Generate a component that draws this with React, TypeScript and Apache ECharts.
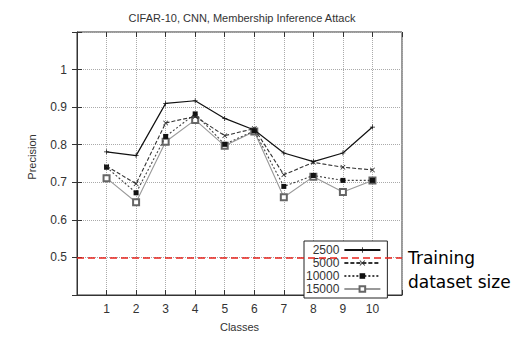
import React, { useEffect, useRef } from "react";
import * as echarts from "echarts";

const classes = [1, 2, 3, 4, 5, 6, 7, 8, 9, 10];
const seriesNames = ["2500", "5000", "10000", "15000"];
const p2500 = [0.781, 0.771, 0.910, 0.917, 0.870, 0.839, 0.778, 0.755, 0.778, 0.847];
const p5000 = [0.743, 0.696, 0.858, 0.875, 0.824, 0.843, 0.720, 0.753, 0.740, 0.733];
const p10000 = [0.740, 0.672, 0.822, 0.882, 0.801, 0.837, 0.689, 0.718, 0.705, 0.705];
const p15000 = [0.711, 0.647, 0.808, 0.866, 0.797, 0.835, 0.660, 0.715, 0.674, 0.705];
const yTicks = [0.5, 0.6, 0.7, 0.8, 0.9, 1];
const baseline = 0.5;

const PLUS = "path://M4.3,0H5.7V10H4.3ZM0,4.3H10V5.7H0Z";
const CROSS = "path://M1,0L5,4L9,0L10,1L6,5L10,9L9,10L5,6L1,10L0,9L4,5L0,1Z";

export default function App() {
  const ref = useRef<HTMLDivElement>(null);
  useEffect(() => {
    const chart = echarts.init(ref.current!, null, { renderer: "svg" });
    const toPts = (arr: number[]) => classes.map((c, i) => [c, arr[i]]);
    const tickFmt = (v: number) => (yTicks.some((t) => Math.abs(t - v) < 1e-9) ? String(v) : "");
    const xFmt = (v: number) => (classes.includes(v) ? String(v) : "");
    const axisLabelStyle = { color: "#333", fontSize: 12, fontFamily: "Liberation Sans" };
    chart.setOption({
      animation: false,
      title: {
        text: "CIFAR-10, CNN, Membership Inference Attack",
        left: 237,
        textAlign: "center",
        top: 7,
        textStyle: { fontSize: 11, fontWeight: "normal", color: "#333", fontFamily: "Liberation Sans" },
      },
      grid: { left: 77, top: 32, right: 127, bottom: 39, show: true, borderColor: "#333", borderWidth: 1 },
      xAxis: [
        {
          type: "value",
          min: 0,
          max: 11,
          interval: 1,
          name: "Classes",
          nameLocation: "middle",
          nameGap: 26,
          nameTextStyle: { ...axisLabelStyle, fontSize: 11 },
          axisLine: { show: true, lineStyle: { color: "#333" } },
          axisTick: { show: true, inside: true, length: 5, lineStyle: { color: "#333" } },
          axisLabel: { ...axisLabelStyle, formatter: xFmt, margin: 8 },
          splitLine: { show: true, lineStyle: { color: "#aaa", type: "dotted" } },
        },
        {
          type: "value",
          position: "top",
          min: 0,
          max: 11,
          interval: 1,
          axisLine: { show: false },
          axisTick: { show: true, inside: true, length: 5, lineStyle: { color: "#333" } },
          axisLabel: { show: false },
          splitLine: { show: false },
        },
      ],
      yAxis: [
        {
          type: "value",
          min: 0.4,
          max: 1.1,
          interval: 0.1,
          axisLine: { show: true, lineStyle: { color: "#333" } },
          axisTick: { show: true, inside: true, length: 5, lineStyle: { color: "#333" } },
          axisLabel: { ...axisLabelStyle, formatter: tickFmt, margin: 10 },
          splitLine: { show: true, lineStyle: { color: "#aaa", type: "dotted" } },
        },
        {
          type: "value",
          position: "right",
          min: 0.4,
          max: 1.1,
          interval: 0.1,
          axisLine: { show: false },
          axisTick: { show: true, inside: true, length: 5, lineStyle: { color: "#333" } },
          axisLabel: { show: false },
          splitLine: { show: false },
        },
      ],
      legend: {
        orient: "vertical",
        left: 304,
        top: 241,
        width: 98,
        align: "right",
        padding: [3, 6, 3, 2],
        itemGap: 1,
        itemWidth: 36,
        itemHeight: 7,
        itemStyle: { borderWidth: 1 },
        borderColor: "#222",
        borderWidth: 1,
        backgroundColor: "#fff",
        textStyle: { color: "#333", fontSize: 12, fontFamily: "Liberation Sans", width: 40, align: "right", padding: [0, 0, 0, 0] },
        data: seriesNames,
      },
      graphic: [
        {
          type: "text",
          left: 408,
          top: 246,
          style: {
            text: "Training\ndataset size",
            font: "17px 'DejaVu Sans'",
            fill: "#000",
            lineHeight: 24,
          },
        },
        {
          type: "text",
          x: 32,
          y: 157,
          rotation: Math.PI / 2,
          style: {
            text: "Precision",
            font: "11px 'Liberation Sans'",
            fill: "#333",
            align: "center",
            verticalAlign: "middle",
          },
        },
      ],
      series: [
        {
          name: seriesNames[0],
          type: "line",
          data: toPts(p2500),
          symbol: PLUS,
          symbolSize: 5,
          lineStyle: { color: "#111", width: 1.2, type: "solid" },
          itemStyle: { color: "#111" },
          z: 5,
          markLine: {
            silent: true,
            symbol: "none",
            label: { show: false },
            lineStyle: { color: "#e8231c", type: [7, 4], width: 1.5 },
            data: [{ yAxis: baseline }],
          },
        },
        {
          name: seriesNames[1],
          type: "line",
          data: toPts(p5000),
          symbol: CROSS,
          symbolSize: 5,
          lineStyle: { color: "#333", width: 1.1, type: [4, 2] },
          itemStyle: { color: "#222" },
          z: 4,
        },
        {
          name: seriesNames[2],
          type: "line",
          data: toPts(p10000),
          symbol: "rect",
          symbolSize: 5,
          lineStyle: { color: "#444", width: 1.1, type: [2, 2] },
          itemStyle: { color: "#111" },
          z: 3,
        },
        {
          name: seriesNames[3],
          type: "line",
          data: toPts(p15000),
          symbol: "emptyRect",
          symbolSize: 6,
          lineStyle: { color: "#999", width: 1.1, type: "solid" },
          itemStyle: { color: "#666", borderWidth: 1 },
          z: 2,
        },
      ],
    });
    return () => chart.dispose();
  }, []);
  return <div ref={ref} style={{ position: "fixed", left: 0, top: 0, width: 529, height: 337, background: "#fff" }} />;
}
